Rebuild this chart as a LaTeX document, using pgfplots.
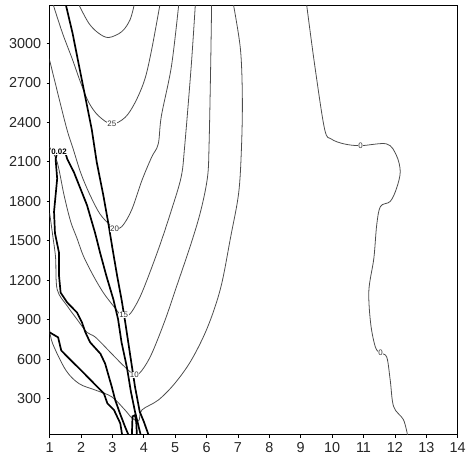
\documentclass[border=0pt]{standalone}
\usepackage{fontspec}
\setmainfont{Liberation Sans}
\usepackage{pgfplots}
\pgfplotsset{compat=1.18}
\begin{document}
\begin{tikzpicture}[
  cthin/.style={black!70, line width=0.8pt, smooth, tension=0.55},
  cthick/.style={black, line width=1.7pt},
  lab/.style={fill=white, inner sep=0.4pt, text=black!80, font=\fontsize{8}{8}\selectfont},
]
\begin{axis}[
  scale only axis, width=411pt, height=432pt,
  xmin=1, xmax=14, ymin=25, ymax=3285,
  xtick={1,...,14}, ytick={300,600,...,3000},
  axis line style={line width=1.1pt},
  tick style={black, line width=0.8pt},
  tick align=outside, tick pos=left, major tick length=3pt,
  ticklabel style={font=\fontsize{14.5}{15}\selectfont, text=black!85},
  yticklabel style={xshift=-2pt},
  xticklabel style={yshift=-1pt},
  /pgf/number format/assume math mode=true,
  /pgf/number format/1000 sep={},
  every axis plot/.append style={no markers},
]
% thin contours
\addplot[cthin] coordinates {(1.94,3290)(2.25,3153)(2.56,3078)(2.88,3045)(3.30,3090)(3.56,3179)(3.69,3290)};
\addplot[cthin] coordinates {(1.12,3290)(1.41,3078)(1.73,2876)(1.99,2701)(2.25,2550)(2.56,2449)(2.98,2387)(3.40,2437)(3.72,2550)(4.03,2726)(4.25,2953)(4.51,3290)};
\addplot[cthin] coordinates {(1.0,2865)(1.02,2852)(1.52,2374)(1.75,2198)(2.0,2010)(2.29,1846)(2.6,1705)(2.92,1620)(3.05,1595)(3.30,1608)(3.61,1733)(3.94,1959)(4.25,2136)(4.46,2236)(4.56,2449)(4.88,2826)(5.11,3290)};
\addplot[cthin] coordinates {(1.0,2210)(1.24,2098)(1.46,1846)(1.67,1646)(1.87,1520)(2.08,1382)(2.40,1231)(2.71,1106)(3.03,1005)(3.29,930)(3.46,932)(3.62,962)(3.94,1106)(4.46,1432)(4.88,1733)(5.19,1985)(5.30,2213)(5.51,2826)(5.64,3290)};
\addplot[cthin] coordinates {(1.0,1710)(1.11,1520)(1.19,1369)(1.24,1130)(1.56,1005)(1.87,904)(2.19,804)(2.46,767)(2.98,641)(3.40,540)(3.72,480)(3.94,515)(4.25,641)(4.67,892)(5.03,1143)(5.51,1482)(5.82,1733)(6.03,1985)(6.08,2236)(6.13,2826)(6.16,3290)};
\addplot[cthin] coordinates {(1.0,820)(1.10,716)(1.52,515)(1.94,414)(2.46,365)(2.98,314)(3.40,214)(3.63,151)(3.84,133)(3.94,214)(4.46,289)(4.98,414)(5.51,591)(6.03,842)(6.45,1143)(6.76,1520)(7.02,1859)(7.11,2198)(7.14,2575)(7.08,2953)(6.86,3290)};
\addplot[cthin] coordinates {(9.19,3290)(9.45,2826)(9.76,2349)(9.97,2274)(10.39,2236)(10.91,2223)(11.74,2236)(12.05,2148)(12.17,2025)(12.05,1897)(11.85,1799)(11.54,1761)(11.42,1620)(11.33,1369)(11.17,1121)(11.23,867)(11.38,691)(11.54,646)(11.74,616)(11.85,442)(11.96,239)(12.27,141)(12.40,25)};
% thick contours
\addplot[cthick] coordinates {(1.52,3290)(1.73,3078)(1.94,2826)(2.15,2575)(2.34,2349)(2.50,2098)(2.71,1846)(2.87,1633)(3.0,1444)(3.15,1234)(3.29,1055)(3.40,894)(3.56,641)(3.72,390)(3.87,201)(4.0,126)(4.15,25)};
\addplot[cthick] coordinates {(3.51,25)(3.40,88)(3.24,188)(3.09,289)(2.98,390)(2.77,565)(2.62,641)(2.29,728)(2.14,804)(2.03,879)(1.87,955)(1.56,1031)(1.35,1106)(1.30,1231)(1.30,1407)(1.17,1558)(1.14,1721)(1.24,1972)(1.19,2122)(1.25,2180)(1.50,2170)(1.56,2122)(1.77,2023)(1.98,1897)(2.19,1771)(2.45,1558)(2.61,1407)(2.81,1231)(3.03,1055)(3.18,904)(3.29,729)(3.46,540)(3.59,352)(3.72,201)(3.90,25)};
\addplot[cthick] coordinates {(1.0,804)(1.27,766)(1.37,666)(1.68,591)(2.00,516)(2.42,414)(2.73,339)(2.84,264)(3.05,214)(3.25,113)(3.31,25)};
\addplot[cthick] coordinates {(3.62,25)(3.64,165)(3.72,175)(3.76,120)(3.78,25)};
% labels
\node[lab, font=\bfseries\fontsize{8}{8}\selectfont, text=black] at (1.30,2180) {0.02};
\node[lab] at (2.98,2387) {25};
\node[lab] at (3.07,1595) {20};
\node[lab] at (3.36,935) {15};
\node[lab] at (3.70,480) {10};
\node[lab] at (10.91,2223) {0};
\node[lab] at (11.54,646) {0};
\end{axis}
\path ([xshift=-50pt,yshift=6pt]current axis.north west);
\path ([xshift=4pt,yshift=-24pt]current axis.south east);
\end{tikzpicture}
\end{document}
